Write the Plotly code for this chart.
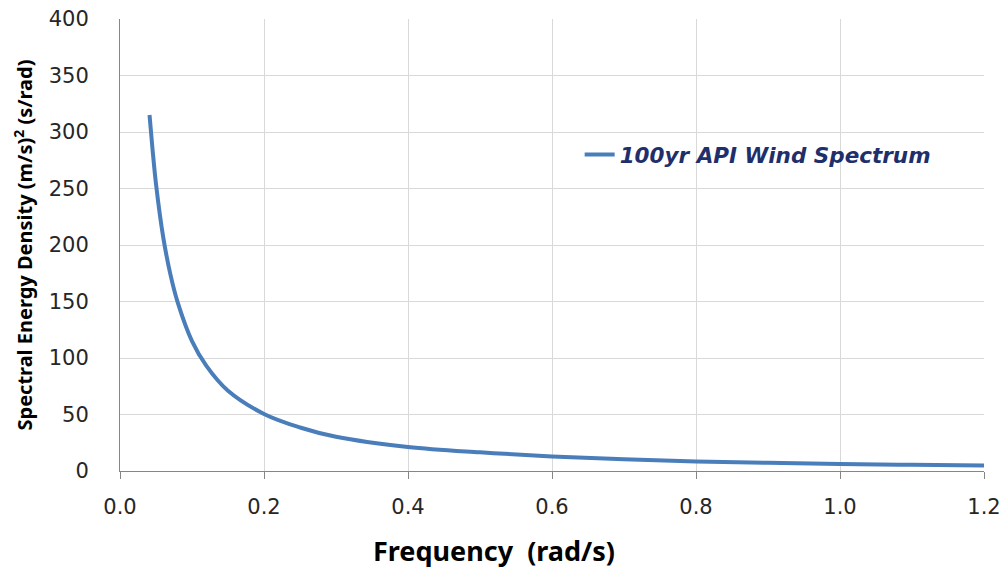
import plotly.graph_objects as go

freq = [0.041, 0.045, 0.050, 0.060, 0.070, 0.080, 0.100, 0.120, 0.150,
        0.200, 0.250, 0.300, 0.400, 0.500, 0.600, 0.700, 0.800, 0.900,
        1.000, 1.100, 1.200]
density = [315, 286, 254, 207, 174, 149.5, 115, 93, 71,
           50.5, 38.5, 30.3, 21.3, 16.5, 12.9, 10.4, 8.5, 7.2,
           6.2, 5.5, 4.9]

x_ticks = [0.0, 0.2, 0.4, 0.6, 0.8, 1.0, 1.2]
x_ticklabels = ["0.0", "0.2", "0.4", "0.6", "0.8", "1.0", "1.2"]
y_ticks = [0, 50, 100, 150, 200, 250, 300, 350, 400]

fig = go.Figure()
fig.add_trace(go.Scatter(
    x=freq, y=density, mode="lines", name="100yr API Wind Spectrum",
    line=dict(color="#4a7ebb", width=4, shape="spline", smoothing=1.0),
))

fig.update_layout(
    width=1005, height=572,
    margin=dict(l=120, r=21, t=19, b=101),
    paper_bgcolor="white", plot_bgcolor="white",
    font=dict(family="Noto Sans, Open Sans, sans-serif", color="#262626"),
    showlegend=True,
    legend=dict(
        x=0.532, y=0.70, xanchor="left", yanchor="middle",
        bgcolor="rgba(0,0,0,0)",
        font=dict(size=21.5, color="#1f2f6b", family="DejaVu Sans, sans-serif",
                  weight="bold", style="italic"),
    ),
    xaxis=dict(
        range=[0, 1.2], tickvals=x_ticks, ticktext=x_ticklabels,
        showgrid=True, gridcolor="#d9d9d9", gridwidth=1,
        showline=True, linecolor="#868686", linewidth=1,
        ticks="outside", ticklen=7, tickcolor="#868686",
        ticklabelstandoff=10,
        tickfont=dict(size=21, color="#262626", family="DejaVu Sans, sans-serif"),
        zeroline=False, automargin=False,
    ),
    yaxis=dict(
        range=[0, 400], tickvals=y_ticks,
        showgrid=True, gridcolor="#d9d9d9", gridwidth=1,
        showline=True, linecolor="#868686", linewidth=1,
        ticks="", ticklabelstandoff=26,
        tickfont=dict(size=21, color="#262626", family="DejaVu Sans, sans-serif"),
        zeroline=False, automargin=False,
        title=dict(text="<b>Spectral Energy Density (m/s)<sup>2</sup> (s/rad)</b>",
                   font=dict(size=20, color="#000000"), standoff=10),
    ),
    annotations=[dict(
        text="<b>Frequency  (rad/s)</b>", xref="paper", yref="paper",
        x=0.433, y=-0.176, xanchor="center", yanchor="middle",
        showarrow=False, font=dict(size=27, color="#000000"),
    )],
)

fig.write_html("out.html")
